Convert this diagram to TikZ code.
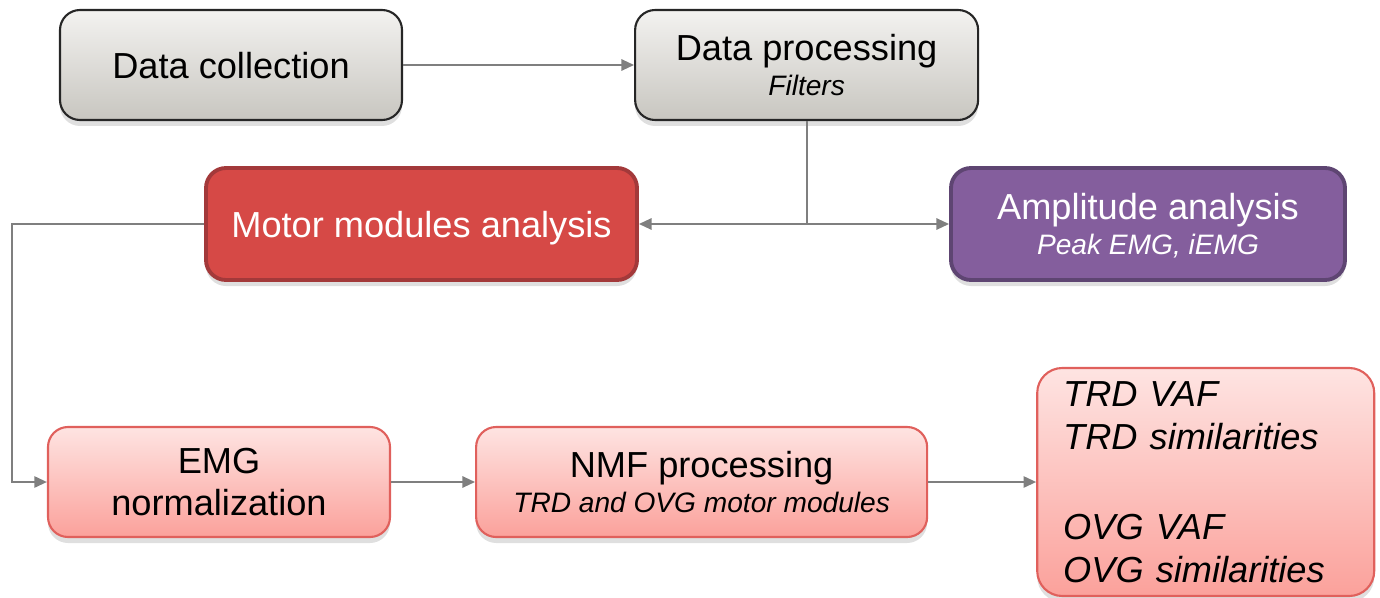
\documentclass[tikz,border=0pt]{standalone}
\usepackage{fontspec}
\setmainfont{Liberation Sans}
\usetikzlibrary{positioning,arrows.meta,shadows}
\definecolor{greytop}{HTML}{F3F2F0}
\definecolor{greybot}{HTML}{C8C6C0}
\definecolor{greyline}{HTML}{262626}
\definecolor{redfill}{HTML}{D64946}
\definecolor{redline}{HTML}{A3393A}
\definecolor{purplefill}{HTML}{845E9D}
\definecolor{purpleline}{HTML}{5E4572}
\definecolor{pinktop}{HTML}{FEE4E2}
\definecolor{pinkbot}{HTML}{FBA19B}
\definecolor{pinkline}{HTML}{E0605C}
\definecolor{link}{HTML}{7F7F7F}
\newcommand{\subtext}[1]{{\fontsize{8}{9.6}\selectfont\itshape #1}}

\begin{document}
\begin{tikzpicture}[
        every node/.style={
            rectangle,
            align=center,
            rounded corners=0.2cm,
            inner sep=0pt,
            text depth=0pt,
            font=\fontsize{10.3}{12}\selectfont
        },
        greybox/.style={
            draw=greyline,
            line width=0.6pt,
            top color=greytop,
            bottom color=greybot,
            minimum width=3.42cm,
            minimum height=1.1cm,
            drop shadow={shadow xshift=0pt, shadow yshift=-0.6mm, opacity=0.25}
        },
        solidbox/.style={
            line width=1.1pt,
            text=white,
            minimum height=1.12cm,
            drop shadow={shadow xshift=0pt, shadow yshift=-0.6mm, opacity=0.25}
        },
        pinkbox/.style={
            draw=pinkline,
            line width=0.6pt,
            top color=pinktop,
            bottom color=pinkbot,
            minimum height=1.1cm,
            drop shadow={shadow xshift=0pt, shadow yshift=-0.6mm, opacity=0.25}
        },
        arrow/.style={
            -{Triangle[length=3.6pt,width=3.2pt]},
            draw=link,
            line width=0.6pt
        }
    ]
        \useasboundingbox (0,0) rectangle (13.8,5.97);

        % top row
        \node[greybox] (collect) at (2.31,5.32) {Data collection};
        \node[greybox, right=2.31cm of collect, minimum width=3.43cm] (process) {Data processing\\[-2pt]\subtext{Filters}};

        % analyses
        \node[solidbox, draw=redline, fill=redfill, minimum width=4.31cm] (modules) at (4.215,3.73) {Motor modules analysis};
        \node[solidbox, draw=purpleline, fill=purplefill, minimum width=3.94cm] (amplitude) at (11.48,3.73) {Amplitude analysis\\[-2pt]\subtext{Peak EMG, iEMG}};

        % bottom row
        \node[pinkbox, minimum width=3.42cm] (norm) at (2.19,1.15) {EMG\\normalization};
        \node[pinkbox, right=0.84cm of norm, minimum width=4.51cm] (nmf) {NMF processing\\[-2pt]\subtext{TRD and OVG motor modules}};
        \node[pinkbox, right=1.08cm of nmf, minimum width=3.37cm, minimum height=2.28cm,
              rounded corners=0.25cm, align=left, text width=2.85cm, text depth={},
              font=\fontsize{10.3}{12.2}\selectfont\itshape] (results)
            {TRD VAF\\TRD similarities\\[13.4pt]OVG VAF\\OVG similarities};

        \coordinate (split) at (process.south |- modules.east);
        \coordinate (bend) at (0.12,3.73);

        \draw[arrow] (collect) -- (process);
        \draw[link, line width=0.6pt] (process.south) -- (split);
        \draw[arrow] (split) -- (modules.east);
        \draw[arrow] (split) -- (amplitude.west);
        \draw[arrow] (modules.west) -- (bend) |- (norm.west);
        \draw[arrow] (norm) -- (nmf);
        \draw[arrow] (nmf) -- (results);
    \end{tikzpicture}
\end{document}
